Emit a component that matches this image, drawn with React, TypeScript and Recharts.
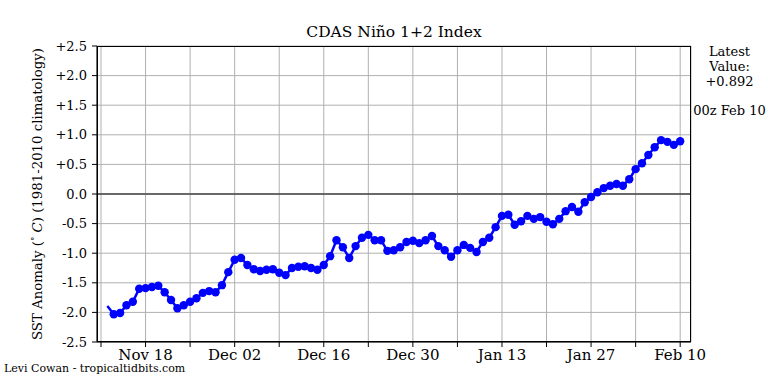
import { LineChart, Line, XAxis, YAxis, CartesianGrid, ReferenceLine } from "recharts";

// daily CDAS Nino 1+2 SST anomaly, Nov 12 -> Feb 10 (day 1 = Nov 12)
const anomaly = [
  -1.89, -2.03, -2.01, -1.88, -1.82, -1.6, -1.59, -1.57, -1.55, -1.66,
  -1.79, -1.93, -1.88, -1.82, -1.76, -1.67, -1.64, -1.66, -1.54, -1.32,
  -1.11, -1.08, -1.2, -1.27, -1.3, -1.28, -1.27, -1.33, -1.37, -1.25,
  -1.23, -1.22, -1.25, -1.28, -1.2, -1.05, -0.78, -0.9, -1.08, -0.88,
  -0.74, -0.69, -0.78, -0.78, -0.96, -0.95, -0.9, -0.81, -0.79, -0.83,
  -0.78, -0.71, -0.88, -0.95, -1.06, -0.95, -0.86, -0.91, -0.98, -0.81,
  -0.74, -0.56, -0.37, -0.35, -0.52, -0.46, -0.37, -0.42, -0.39, -0.47,
  -0.51, -0.42, -0.29, -0.22, -0.3, -0.14, -0.05, 0.03, 0.1, 0.14,
  0.17, 0.14, 0.25, 0.42, 0.52, 0.66, 0.79, 0.91, 0.88, 0.83,
  0.892,
];

// weekly ticks, day 0 = Nov 11
const xTicks = [0, 7, 14, 21, 28, 35, 42, 49, 56, 63, 70, 77, 84, 91];
const xTickLabels = ["", "Nov 18", "", "Dec 02", "", "Dec 16", "", "Dec 30", "", "Jan 13", "", "Jan 27", "", "Feb 10"];
const yTicks = [-2.5, -2, -1.5, -1, -0.5, 0, 0.5, 1, 1.5, 2, 2.5];

const data = anomaly.map((v, i) => ({ day: i + 1, value: v }));

const font = "'DejaVu Serif', serif";

const fmtY = (v: number) => (v > 0 ? "+" + v.toFixed(1) : v.toFixed(1));

function YLabel() {
  return (
    <text
      x={37}
      y={194}
      transform="rotate(-90 37 194)"
      textAnchor="middle"
      dominantBaseline="central"
      fontFamily={font}
      fontSize={13.3}
      fill="#000"
    >
      SST Anomaly (
      <tspan fontSize={9} dy={-5}>∘</tspan>
      <tspan dy={5} fontStyle="italic"> C</tspan>
      ) (1981-2010 climatology)
    </text>
  );
}

export default function App() {
  return (
    <div style={{ position: "absolute", left: 0, top: 0, width: 768, height: 384, background: "#fff", fontFamily: font }}>
      <div style={{ position: "absolute", left: 97, width: 594, top: 23, textAlign: "center", fontSize: 15.5 }}>
        CDAS Niño 1+2 Index
      </div>
      <LineChart
        width={768}
        height={384}
        data={data}
        margin={{ top: 46, right: 77, bottom: 0, left: 0 }}
      >
        <CartesianGrid stroke="#b0b0b0" strokeWidth={1} />
        <XAxis
          dataKey="day"
          type="number"
          domain={[-0.63, 92.7]}
          ticks={xTicks}
          tickFormatter={(v: number) => xTickLabels[xTicks.indexOf(v)] ?? ""}
          height={42}
          tickSize={5}
          tickMargin={2}
          stroke="#000"
          tick={{ fill: "#000", fontSize: 15, fontFamily: font }}
          interval={0}
        />
        <YAxis
          type="number"
          domain={[-2.5, 2.5]}
          ticks={yTicks}
          tickFormatter={fmtY}
          width={97}
          tickSize={5}
          tickMargin={5}
          stroke="#000"
          tick={{ fill: "#000", fontSize: 13, fontFamily: font }}
          interval={0}
          label={<YLabel />}
        />
        <ReferenceLine y={0} stroke="#444" strokeWidth={1.3} />
        <Line
          dataKey="value"
          stroke="#0000ff"
          strokeWidth={2.5}
          isAnimationActive={false}
          dot={(p: any) =>
            p.index === 0 ? (
              <g key={p.index} />
            ) : (
              <circle key={p.index} cx={p.cx} cy={p.cy} r={4.2} fill="#0000ff" stroke="none" />
            )
          }
          activeDot={false}
        />
      </LineChart>
      <div style={{ position: "absolute", left: 97, top: 46, width: 594, height: 296, border: "1px solid #000", boxSizing: "border-box", pointerEvents: "none", marginLeft: -0.5 }} />
      <div style={{ position: "absolute", left: 691, width: 77, top: 44, textAlign: "center", fontSize: 13, lineHeight: "15px" }}>
        Latest
        <br />
        Value:
        <br />
        +0.892
      </div>
      <div style={{ position: "absolute", left: 691, width: 77, top: 103, textAlign: "center", fontSize: 13, whiteSpace: "nowrap" }}>
        00z Feb 10
      </div>
      <div style={{ position: "absolute", left: 4, top: 362, fontSize: 11 }}>
        Levi Cowan - tropicaltidbits.com
      </div>
    </div>
  );
}
